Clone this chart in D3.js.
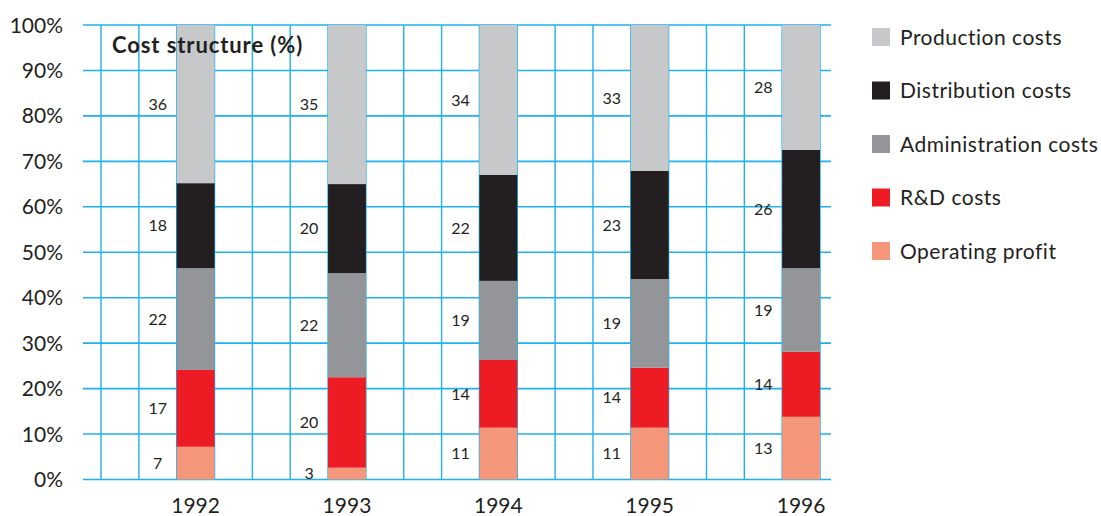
<!DOCTYPE html>
<html>
<head>
<meta charset="utf-8">
<script src="https://cdn.jsdelivr.net/npm/d3@7"></script>
<style>
  html, body { margin: 0; padding: 0; background: #fff; }
  svg { display: block; }
  text { font-family: Lato, "Open Sans", sans-serif; fill: #231f20; }
</style>
</head>
<body>
<svg id="chart" width="1101" height="516"></svg>
<script>
// ---- data ----
const years = ["1992", "1993", "1994", "1995", "1996"];
const seriesNames = ["Operating profit", "R&D costs", "Administration costs", "Distribution costs", "Production costs"];
const seriesColors = ["#f5977a", "#ed1c24", "#939598", "#231f20", "#c6c8ca"];
// drawn segment heights (% of total), bottom to top
const operatingProfit = [7.2, 2.6, 11.4, 11.4, 13.8];
const rdCosts = [16.9, 19.9, 14.9, 13.2, 14.3];
const adminCosts = [22.4, 22.9, 17.4, 19.5, 18.4];
const distributionCosts = [18.7, 19.6, 23.3, 23.8, 26.0];
const productionCosts = [34.8, 35.0, 33.0, 32.1, 27.5];
// printed labels
const labelsOperatingProfit = [7, 3, 11, 11, 13];
const labelsRd = [17, 20, 14, 14, 14];
const labelsAdmin = [22, 22, 19, 19, 19];
const labelsDistribution = [18, 20, 22, 23, 26];
const labelsProduction = [36, 35, 34, 33, 28];
const yTicks = [0, 10, 20, 30, 40, 50, 60, 70, 80, 90, 100];
const title = "Cost structure (%)";

const values = [operatingProfit, rdCosts, adminCosts, distributionCosts, productionCosts];
const labels = [labelsOperatingProfit, labelsRd, labelsAdmin, labelsDistribution, labelsProduction];

// ---- layout ----
const svg = d3.select("#chart");
const gridColor = "#1fb1ec";
const y = d3.scaleLinear().domain([0, 100]).range([479.5, 25]);
const nCols = 20;
const col = d3.scaleLinear().domain([0, nCols - 1]).range([101, 820]);
const colW = col(1) - col(0);
const yearCol = d3.scaleOrdinal().domain(years).range(years.map((d, i) => 2 + 4 * i));
const gridLeft = 83, gridRight = 831;

// grid
const grid = svg.append("g");
grid.selectAll("line.v").data(d3.range(nCols)).join("line")
  .attr("x1", d => col(d)).attr("x2", d => col(d))
  .attr("y1", y(100)).attr("y2", y(0))
  .attr("stroke", gridColor).attr("stroke-width", 1.4);
grid.selectAll("line.h").data(yTicks).join("line")
  .attr("x1", gridLeft).attr("x2", gridRight)
  .attr("y1", d => y(d)).attr("y2", d => y(d))
  .attr("stroke", gridColor).attr("stroke-width", 1.6);

// y axis labels
svg.append("g").selectAll("text").data(yTicks).join("text")
  .attr("x", 63).attr("y", d => y(d))
  .attr("dy", "0.36em")
  .attr("text-anchor", "end")
  .style("font-size", "21px")
  .text(d => d + "%");

// stacked bars
const table = years.map((yr, i) => {
  const o = { year: yr };
  seriesNames.forEach((s, k) => { o[s] = values[k][i]; });
  return o;
});
const stacked = d3.stack().keys(seriesNames)(table);

const bars = svg.append("g");
stacked.forEach((layer, k) => {
  bars.selectAll(null).data(layer).join("rect")
    .attr("x", d => col(yearCol(d.data.year)))
    .attr("width", colW)
    .attr("y", d => y(Math.min(d[1], 100)))
    .attr("height", d => y(d[0]) - y(Math.min(d[1], 100)))
    .attr("fill", seriesColors[k]);
  // value labels, in the column left of the bar
  svg.append("g").selectAll("text").data(layer).join("text")
    .attr("x", d => col(yearCol(d.data.year) - 1) + colW / 2)
    .attr("y", d => y((d[0] + Math.min(d[1], 100)) / 2))
    .attr("dy", "0.36em")
    .attr("text-anchor", "middle")
    .style("font-size", "16px")
    .text((d, i) => labels[k][i]);
});

// year labels
svg.append("g").selectAll("text").data(years).join("text")
  .attr("x", d => col(yearCol(d)) + colW / 2)
  .attr("y", 513)
  .attr("text-anchor", "middle")
  .style("font-size", "21px")
  .text(d => d);

// title
svg.append("text")
  .attr("x", 112).attr("y", 53)
  .style("font-size", "22px").style("font-weight", "bold")
  .style("letter-spacing", "0.9px")
  .text(title);

// legend (top entry = production)
const legendOrder = d3.range(seriesNames.length).reverse();
const leg = svg.append("g").selectAll("g").data(legendOrder).join("g")
  .attr("transform", (d, i) => `translate(872, ${28 + i * 53.5})`);
leg.append("rect").attr("width", 18).attr("height", 18).attr("fill", d => seriesColors[d]);
leg.append("text")
  .attr("x", 28).attr("y", 9).attr("dy", "0.36em")
  .style("font-size", "21px")
  .style("letter-spacing", "0.5px")
  .text(d => seriesNames[d]);
</script>
</body>
</html>
